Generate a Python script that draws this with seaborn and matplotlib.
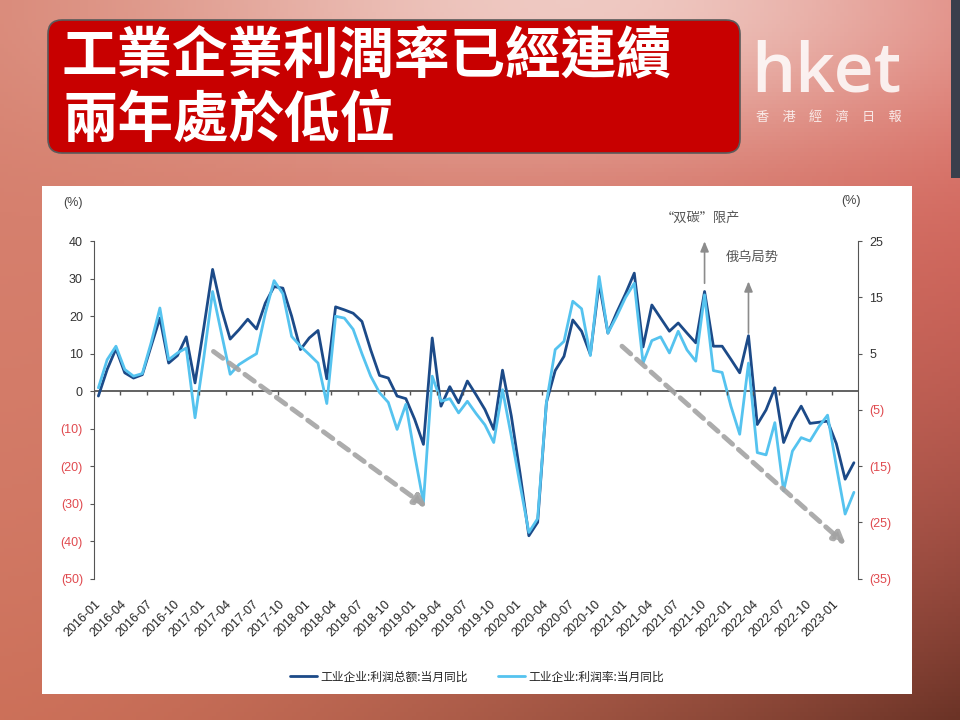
import numpy as np
import pandas as pd
import seaborn as sns
import matplotlib.pyplot as plt
from matplotlib.patches import FancyBboxPatch, Rectangle

## data (monthly, 2016-01 .. 2023-03)
months = pd.period_range('2016-01', '2023-03', freq='M')

profit_total = [-1.3, 5.8, 11.3, 4.9, 3.5, 4.4, 12.0, 19.5, 7.5, 9.5, 14.5, 2.2,
                17.0, 32.5, 22.0, 13.9, 16.4, 19.2, 16.6, 23.5, 27.9, 27.5, 20.0, 11.1,
                14.2, 16.2, 3.3, 22.5, 21.7, 20.8, 18.6, 11.0, 4.2, 3.5, -1.3, -2.0,
                -7.5, -14.2, 14.2, -4.0, 1.2, -3.1, 2.7, -1.0, -4.9, -10.2, 5.6, -6.6,
                -22.0, -38.6, -35.0, -3.0, 5.5, 9.3, 19.0, 16.0, 9.8, 28.8, 15.5, 21.0,
                26.0, 31.5, 11.8, 23.0, 19.5, 16.0, 18.2, 15.5, 12.9, 26.6, 12.0, 12.0,
                8.5, 4.9, 14.8, -8.9, -5.0, 0.9, -13.7, -8.0, -4.0, -8.6, -8.3, -8.0,
                -14.0, -23.5, -19.1]

profit_margin = [0.9, 8.4, 12.0, 5.8, 4.0, 4.7, 12.9, 22.2, 8.4, 10.2, 11.5, -7.1,
                 9.0, 26.6, 15.5, 4.5, 7.1, 8.6, 10.0, 20.8, 29.5, 26.0, 14.6, 12.0,
                 9.8, 7.5, -3.3, 20.0, 19.5, 16.5, 10.0, 4.0, -0.4, -3.0, -10.2, -3.5,
                 -17.0, -29.7, 4.0, -2.7, -2.0, -5.8, -2.7, -6.0, -9.0, -13.7, 0.4, -12.0,
                 -25.0, -37.7, -34.0, -3.0, 11.1, 13.3, 24.0, 22.0, 9.5, 30.6, 15.5, 20.0,
                 25.0, 28.8, 7.5, 13.5, 14.5, 10.2, 16.0, 11.0, 8.0, 25.7, 5.5, 5.0,
                 -4.0, -11.5, 7.5, -16.4, -17.0, -8.4, -26.6, -16.0, -12.4, -13.3, -9.5, -6.4,
                 -20.0, -32.8, -27.0]

left_ticks = [40, 30, 20, 10, 0, -10, -20, -30, -40, -50]
right_ticks = [25, 15, 5, -5, -15, -25, -35]

series_names = ['工业企业:利润总额:当月同比', '工业企业:利润率:当月同比']
events = [('“双碳”限产', '2021-10'), ('俄乌局势', '2022-03')]
trend_arrows = [((13.6, 10.6), (37.9, -31.0)), ((60.1, 12.0), (85.6, -41.0))]

df = pd.DataFrame({'pos': np.arange(len(months)) + 0.5,
                   'total': profit_total, 'margin': profit_margin})

def paren(v):
    return f'({abs(v)})' if v < 0 else str(v)

sns.set_style('white')
plt.rcParams['font.family'] = ['Liberation Sans', 'Noto Sans CJK SC', 'DejaVu Sans']

fig = plt.figure(figsize=(9.6, 7.2), dpi=100)

## background layer in pixel coords
bg = fig.add_axes([0, 0, 1, 1], zorder=0)
bg.set_xlim(0, 960)
bg.set_ylim(720, 0)
bg.axis('off')
yy, xx = np.mgrid[0:1:180j, 0:1:240j]
tl = np.array([0.84, 0.50, 0.43]); tr = np.array([0.85, 0.42, 0.38])
bl = np.array([0.80, 0.44, 0.35]); br = np.array([0.42, 0.20, 0.15])
wy = (yy ** 2.2)[..., None]; wx = (xx ** 1.5)[..., None]
img = tl * (1 - wx) * (1 - wy) + tr * wx * (1 - wy) + bl * (1 - wx) * wy + br * wx * wy
glow = np.exp(-(((xx - 0.6) / 0.45) ** 2 + ((yy - 0.0) / 0.2) ** 2))[..., None]
img = img * (1 - 0.8 * glow) + np.array([0.96, 0.87, 0.85]) * 0.8 * glow
bg.imshow(np.clip(img, 0, 1), extent=(0, 960, 720, 0), aspect='auto')
bg.add_patch(Rectangle((951, 0), 9, 178, fc='#3b3f4c', ec='none'))
bg.add_patch(Rectangle((42, 186), 870, 508, fc='white', ec='none'))
bg.add_patch(FancyBboxPatch((48, 20), 692, 133, boxstyle='round,pad=0,rounding_size=14',
                            fc='#c80000', ec='#5a5a5a', lw=1.2))
bg.text(62, 56, '工業企業利潤率已經連續', color='white', fontsize=40, weight='bold',
        family='Noto Sans CJK TC', va='center', ha='left')
bg.text(62, 121, '兩年處於低位', color='white', fontsize=40, weight='bold',
        family='Noto Sans CJK TC', va='center', ha='left')
bg.text(751, 91, 'hket', color='white', alpha=0.85, fontsize=50, family='Open Sans',
        weight='semibold', va='baseline', ha='left')
bg.text(756, 117, '香\u3000港\u3000經\u3000濟\u3000日\u3000報', color='white', alpha=0.8,
        fontsize=9.5, family='Noto Sans CJK TC', va='center', ha='left')
bg.text(73, 203, '(%)', fontsize=9, color='#444', ha='center', va='center')
bg.text(851, 201, '(%)', fontsize=9, color='#444', ha='center', va='center')

## main chart
ax = fig.add_axes([94 / 960, 1 - 578.5 / 720, (858.3 - 94) / 960, (578.5 - 241.3) / 720], zorder=2)
ax.patch.set_alpha(0)
sns.lineplot(data=df, x='pos', y='total', color='#1c4a88', lw=2.0, label=series_names[0], ax=ax)
sns.lineplot(data=df, x='pos', y='margin', color='#55c3ef', lw=2.0, label=series_names[1], ax=ax)
ax.get_legend().remove()

ax.set_xlim(0, len(months))
ax.set_ylim(left_ticks[-1], left_ticks[0])
ax.set_xlabel('')
ax.set_ylabel('')
for s in ['top', 'right', 'bottom']:
    ax.spines[s].set_visible(False)
ax.spines['left'].set_color('#555')

tick_pos = np.arange(0, len(months), 3)
ax.axhline(0, color='#555', lw=1.3, zorder=1)
ax.vlines(tick_pos, -1.1, 0, color='#555', lw=1.0)
ax.set_xticks(tick_pos, [str(m) for m in months[::3]], rotation=45, ha='right',
              rotation_mode='anchor', fontsize=9, color='#222')
ax.tick_params(axis='x', length=0, pad=14)

ax.set_yticks(left_ticks, [paren(v) for v in left_ticks], fontsize=9)
ax.tick_params(axis='y', left=True, length=3, color='#555', direction='out', pad=5)
for lab, v in zip(ax.get_yticklabels(), left_ticks):
    lab.set_color('#e04a4f' if v < 0 else '#333')

ax2 = ax.twinx()
ax2.set_ylim(right_ticks[-1], right_ticks[0])
for s in ['top', 'left', 'bottom']:
    ax2.spines[s].set_visible(False)
ax2.spines['right'].set_color('#555')
ax2.set_yticks(right_ticks, [paren(v) for v in right_ticks], fontsize=9)
ax2.tick_params(axis='y', right=True, length=3, color='#555', direction='out', pad=5)
for lab, v in zip(ax2.get_yticklabels(), right_ticks):
    lab.set_color('#e04a4f' if v < 0 else '#333')
ax2.grid(False)

## trend arrows
for start, end in trend_arrows:
    ax.annotate('', xy=end, xytext=start, annotation_clip=False,
                arrowprops=dict(arrowstyle='-|>,head_width=0.35,head_length=0.7',
                                color='#a3a3a3', lw=3.5, linestyle=(0, (2.4, 1.6)),
                                shrinkA=0, shrinkB=0, alpha=0.9))

## event arrows: (arrow top, text y, gap above line, text x shift)
month_str = [str(m) for m in months]
for (txt, mon), (top, ty, off, dx) in zip(events, [(40.0, 46.2, 2.2, -0.5), (29.3, 35.8, 0.7, 0.45)]):
    i = month_str.index(mon)
    x = df['pos'][i]
    ax.annotate('', xy=(x, top), xytext=(x, profit_total[i] + off), annotation_clip=False,
                arrowprops=dict(arrowstyle='-|>,head_width=0.25,head_length=0.6',
                                color='#8c8c8c', lw=1.2, shrinkA=0, shrinkB=0))
    ax.text(x + dx, ty, txt, fontsize=9.5, color='#555', ha='center', va='center',
            family='Noto Sans CJK SC', clip_on=False)

h, l = ax.get_legend_handles_labels()
fig.legend(h, l, loc='center', bbox_to_anchor=(0.497, 0.06), ncol=2, frameon=False,
           prop={'family': 'Noto Sans CJK SC', 'size': 8.5}, handlelength=2.3,
           columnspacing=2.5, handletextpad=0.3)

fig.savefig('out.png', dpi=100)
